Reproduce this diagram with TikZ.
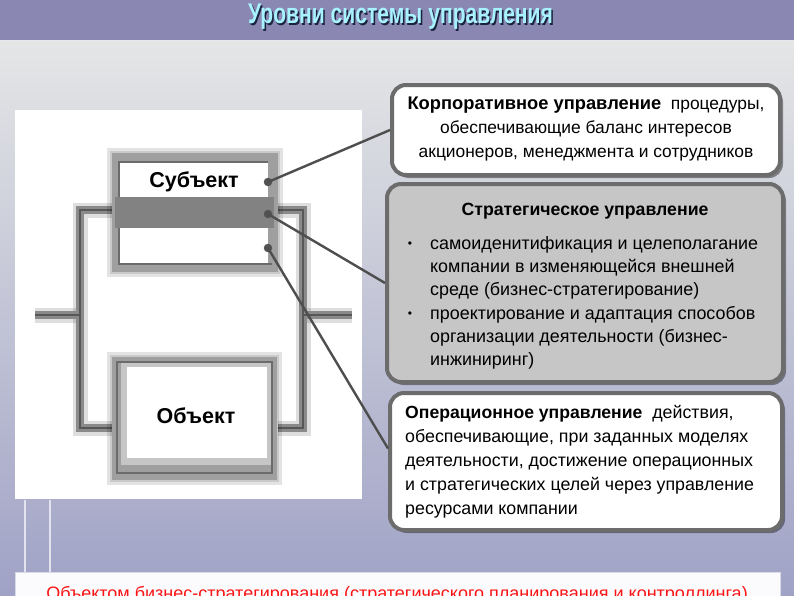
\documentclass[tikz,border=0pt]{standalone}
\usepackage{fontspec}
\setmainfont{Liberation Sans}
\usetikzlibrary{shadows,calc}
\definecolor{titlebar}{RGB}{138,136,178}
\definecolor{bgtop}{RGB}{228,230,230}
\definecolor{bgbot}{RGB}{160,162,198}
\definecolor{boxline}{RGB}{108,108,108}
\definecolor{stratfill}{RGB}{198,198,198}
\definecolor{titlecyan}{RGB}{168,242,255}
\definecolor{titleshadow}{RGB}{25,35,60}
\definecolor{linkgray}{RGB}{78,78,78}
\definecolor{redtext}{RGB}{250,20,20}
\tikzset{
  bodyfont/.style={font=\fontsize{17.8}{24}\selectfont},
  infobox/.style={rounded corners=14pt, draw=boxline, line width=4pt,
    drop shadow={shadow xshift=3pt, shadow yshift=-3pt, opacity=0.4, fill=black}},
  pipehalo/.style={line width=15pt, draw=black, opacity=0.13},
  pipebody/.style={line width=8pt, draw=gray!92},
  pipecore/.style={line width=2.6pt, draw=black!66},
  frame/.style={fill=gray!75},
  framehalo/.style={fill=black, opacity=0.11},
  inner/.style={fill=white},
  edge/.style={draw=black!58, line width=1.6pt},
  dot/.style={circle, fill=black!68, inner sep=0pt, minimum size=8.5pt},
  link/.style={draw=linkgray, line width=2.4pt},
  labelfont/.style={font=\fontsize{21.5}{24}\selectfont\bfseries}
}
\newcommand{\titletext}{Уровни системы управления}
\begin{document}
\begin{tikzpicture}[x=1pt,y=-1pt]
\useasboundingbox (0,0) rectangle (794,595);
% background
\fill[top color=bgtop, bottom color=bgbot] (0,40) rectangle (794,595);
\fill[titlebar] (0,0) rectangle (794,40);
\draw[white!80!titlebar, line width=1pt] (0,40.5) -- (794,40.5);
% faint lines lower left
\draw[white!70!bgbot, line width=2.5pt] (25,500) -- (25,572);
\draw[white!70!bgbot, line width=2.5pt] (50,500) -- (50,572);
% title (with shadow in the same node)
\node[font=\fontsize{28.5}{30}\selectfont\bfseries, text=titlecyan, xscale=0.74] (title) at (400.5,18)
  {\makebox[0pt][l]{\hspace{2pt}\raisebox{-2pt}{\textcolor{titleshadow}{\titletext}}}\titletext};
% white panel
\fill[white] (15,110) rectangle (362,499);
% pipes
\foreach \s in {pipehalo,pipebody,pipecore}{
  \draw[\s, line join=miter] (112,210) -- (80,210) -- (80,428) -- (112,428);
  \draw[\s, line join=miter] (278,210) -- (303,210) -- (303,428) -- (278,428);
  \draw[\s] (35,315) -- (80,315);
  \draw[\s] (303,315) -- (352,315);
}
% subject frame
\fill[framehalo] (107,148) rectangle (283,277);
\fill[framehalo] (110,151) rectangle (280,274);
\fill[frame] (112,153) rectangle (278,272);
\fill[inner] (120,163) rectangle (268,197);
\fill[gray!98] (115,197) rectangle (274,228);
\fill[inner] (120,228) rectangle (268,263);
\draw[edge] (119,197) -- (119,162) -- (268,162);
\draw[edge] (119,228) -- (119,264) -- (272,264);
\node[labelfont] (subj) at (194,182) {Субъект};
% object frame
\fill[framehalo] (107,352) rectangle (282,485);
\fill[framehalo] (110,355) rectangle (279,482);
\fill[frame] (112,357) rectangle (277,480);
\draw[edge] (117,362) rectangle (272,473);
\fill[gray!45] (121,363) rectangle (271,465);
\fill[inner] (127,367) rectangle (267,458);
\node[labelfont] (obj) at (196,416) {Объект};
% dots
\node[dot] (d1) at (268,182) {};
\node[dot] (d2) at (268,214) {};
\node[dot] (d3) at (268,248) {};
% boxes
\node[infobox, fill=white, minimum width=388pt, minimum height=90pt] (corp) at (586,130) {};
\node[font=\fontsize{17.4}{24}\selectfont, align=center] (corptext) at (586,129) {{\fontsize{18.3}{24}\selectfont\bfseries Корпоративное управление}\ \ процедуры,\\обеспечивающие баланс интересов\\акционеров, менеджмента и сотрудников};
\node[infobox, fill=stratfill, minimum width=396pt, minimum height=198pt] (strat) at (585,283) {};
\node[font=\fontsize{17.7}{24}\selectfont\bfseries] (strattitle) at (585,211) {Стратегическое управление};
\node[font=\fontsize{12}{14}\selectfont] (b1) at (410,245) {•};
\node[font=\fontsize{12}{14}\selectfont] (b2) at (410,315) {•};
\node[font=\fontsize{17.9}{23.3}\selectfont, align=left, anchor=west, inner sep=0pt] (strattext) at (430,303) {самоиденитификация и целеполагание\\компании в изменяющейся внешней\\среде (бизнес-стратегирование)\\проектирование и адаптация способов\\организации деятельности (бизнес-\\инжиниринг)};
\node[infobox, fill=white, minimum width=392pt, minimum height=137pt] (oper) at (586,461.5) {};
\node[bodyfont, align=left, anchor=west, inner sep=0pt] (opertext) at (405,462) {{\fontsize{17.6}{24}\selectfont\bfseries Операционное управление}\ \ действия,\\обеспечивающие, при заданных моделях\\деятельности, достижение операционных\\и стратегических целей через управление\\ресурсами компании};
% connectors
\draw[link] (d1.center) -- (corp.west);
\draw[link] (d2.center) -- (strat.west);
\draw[link] (d3.center) -- ([yshift=13pt]oper.west);
% bottom band
\begin{scope}
\clip (0,0) rectangle (794,595);
\filldraw[fill=white!96!bgbot, draw=white!60!bgbot, line width=1pt] (15,572) rectangle (780,610);
\node[font=\fontsize{18}{20}\selectfont, text=redtext, anchor=base] (bottomtext) at (397,599) {Объектом бизнес-стратегирования (стратегического планирования и контроллинга)};
\end{scope}
\end{tikzpicture}
\end{document}
